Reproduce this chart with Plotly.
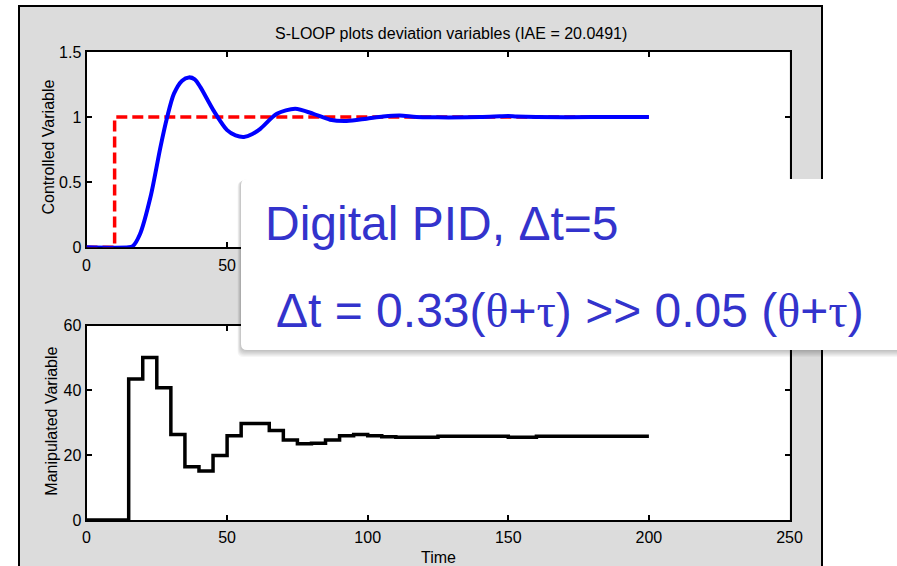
import plotly.graph_objects as go

W, H = 897, 566

# ---------------- data ----------------
time_sp = [0, 10, 10, 200]
setpoint = [0, 0, 1, 1]

time_cv = [0, 15, 16.5, 19, 22.8, 26.3, 28.7, 31.1, 34, 36.4, 38.5, 40.5, 45.2, 50, 53, 56, 59,
           61.8, 67.7, 74.2, 80.7, 86.6, 92.5, 99.6, 105.5, 111.4, 117.3, 125, 140, 147, 150,
           153, 160, 180, 200]
cv = [0, 0, 0.01, 0.10, 0.39, 0.77, 1.0, 1.18, 1.28, 1.305, 1.29, 1.23, 1.05, 0.90, 0.86, 0.848,
      0.87, 0.91, 1.025, 1.064, 1.025, 0.98, 0.970, 0.988, 1.005, 1.013, 1.0, 0.998, 1.0, 1.006,
      1.008, 1.004, 1.0, 1.0, 1.0]

time_mv = [0, 15, 20, 25, 30, 35, 40, 45, 50, 55, 60, 65, 70, 75, 80, 85, 90, 95, 100, 105, 110,
           115, 120, 125, 130, 135, 140, 145, 150, 155, 160, 165, 170, 175, 180, 185, 190, 195, 200]
mv = [0, 43.5, 50.1, 40.8, 26.4, 16.4, 15.1, 19.9, 26.0, 29.8, 29.8, 27.6, 24.7, 23.5, 23.7, 24.7,
      26.0, 26.4, 26.0, 25.7, 25.5, 25.5, 25.5, 25.8, 25.8, 25.8, 25.8, 25.8, 25.5, 25.5, 25.8,
      25.8, 25.8, 25.8, 25.8, 25.8, 25.8, 25.8, 25.8]

x_ticks = [0, 50, 100, 150, 200, 250]
x_ticktext = ["0", "50", "100", "150", "200", "250"]
y1_ticks = [0, 0.5, 1, 1.5]
y1_ticktext = ["0", "0.5", "1", "1.5"]
y2_ticks = [0, 20, 40, 60]
y2_ticktext = ["0", "20", "40", "60"]

title_text = "S-LOOP plots deviation variables (IAE = 20.0491)"
ylabel_top = "Controlled Variable"
ylabel_bot = "Manipulated Variable"
xlabel = "Time"
SERIF = "font-family:'Liberation Serif','Times New Roman',serif"
box_line1 = "Digital PID, Δt=5"
box_line2 = ("Δt = 0.33(<span style=\"%s\">θ</span>+<span style=\"%s\">τ</span>) &gt;&gt; "
             "0.05 (<span style=\"%s\">θ</span>+<span style=\"%s\">τ</span>)") % (SERIF, SERIF, SERIF, SERIF)


def px(x):
    return x / W


def py(y):
    return 1 - y / H


FONT = "Liberation Sans, Arial, sans-serif"
SMALL = 16
BIG = 48
# plot-area pixel geometry
L, R = 86.5, 789.5
T1, B1 = 52, 247.3
T2, B2 = 325.5, 520

fig = go.Figure()
fig.add_trace(go.Scatter(x=time_sp, y=setpoint, mode="lines",
                         line=dict(color="#ff0000", width=3.5, dash="11px,5px"),
                         xaxis="x", yaxis="y", showlegend=False))
fig.add_trace(go.Scatter(x=time_cv, y=cv, mode="lines",
                         line=dict(color="#0000ff", width=4, shape="spline", smoothing=0.8),
                         xaxis="x", yaxis="y", showlegend=False))
fig.add_trace(go.Scatter(x=time_mv, y=mv, mode="lines",
                         line=dict(color="black", width=3.5, shape="hv"),
                         xaxis="x2", yaxis="y2", showlegend=False))

axis_common = dict(showline=True, linecolor="black", linewidth=2, mirror="ticks",
                   ticks="inside", ticklen=5, tickwidth=2, tickcolor="black",
                   showgrid=False, zeroline=False, layer="below traces", automargin=False,
                   tickfont=dict(family=FONT, size=SMALL, color="black"))

fig.update_layout(
    width=W, height=H, autosize=False,
    margin=dict(l=0, r=0, t=0, b=0, pad=0, autoexpand=False),
    paper_bgcolor="white", plot_bgcolor="white",
    xaxis=dict(domain=[px(L), px(R)], range=[0, 250], tickvals=x_ticks, ticktext=x_ticktext,
               anchor="y", ticklabelstandoff=2, **axis_common),
    yaxis=dict(domain=[py(B1), py(T1)], range=[0, 1.5], tickvals=y1_ticks, ticktext=y1_ticktext,
               anchor="x", **axis_common),
    xaxis2=dict(domain=[px(L), px(R)], range=[0, 250], tickvals=x_ticks, ticktext=x_ticktext,
                anchor="y2", ticklabelstandoff=2, **axis_common),
    yaxis2=dict(domain=[py(B2), py(T2)], range=[0, 60], tickvals=y2_ticks, ticktext=y2_ticktext,
                anchor="x2", **axis_common),
)

shapes = []
# grey figure window
shapes.append(dict(type="rect", xref="paper", yref="paper", layer="below",
                   x0=px(19), x1=px(822), y0=py(6), y1=py(580),
                   fillcolor="rgb(220,220,220)", line=dict(color="black", width=2)))
# white plot areas
for (t, b) in [(T1, B1), (T2, B2)]:
    shapes.append(dict(type="rect", xref="paper", yref="paper", layer="below",
                       x0=px(L), x1=px(R), y0=py(b), y1=py(t),
                       fillcolor="white", line=dict(width=0)))


def rounded_box(x0, y0, x1, y1, r):
    pts = [
        "M %f,%f" % (px(x0 + r), py(y0)),
        "L %f,%f" % (px(x1), py(y0)),
        "L %f,%f" % (px(x1), py(y1)),
        "L %f,%f" % (px(x0 + r), py(y1)),
        "Q %f,%f %f,%f" % (px(x0), py(y1), px(x0), py(y1 - r)),
        "L %f,%f" % (px(x0), py(y0 + r)),
        "Q %f,%f %f,%f" % (px(x0), py(y0), px(x0 + r), py(y0)),
        "Z",
    ]
    return " ".join(pts)


BX0, BY0, BX1, BY1 = 241, 179, 910, 350
# soft shadow
for k in range(1, 8):
    shapes.append(dict(type="path", xref="paper", yref="paper", layer="above",
                       path=rounded_box(BX0 - 0.5 * k, BY0 + 0.3 * k, BX1, BY1 + 1.0 * k, 6),
                       fillcolor="rgba(0,0,0,0.035)", line=dict(width=0)))
shapes.append(dict(type="path", xref="paper", yref="paper", layer="above",
                   path=rounded_box(BX0, BY0, BX1, BY1, 6),
                   fillcolor="white", line=dict(width=0)))
fig.update_layout(shapes=shapes)

ann = []
ann.append(dict(text=title_text, x=px(451), y=py(34), xref="paper", yref="paper",
                showarrow=False, xanchor="center", yanchor="middle",
                font=dict(family=FONT, size=SMALL, color="black")))
ann.append(dict(text=ylabel_top, x=px(48), y=py(147.5), xref="paper", yref="paper",
                showarrow=False, textangle=-90, xanchor="center", yanchor="middle",
                font=dict(family=FONT, size=SMALL, color="black")))
ann.append(dict(text=ylabel_bot, x=px(52), y=py(421.7), xref="paper", yref="paper",
                showarrow=False, textangle=-90, xanchor="center", yanchor="middle",
                font=dict(family=FONT, size=SMALL, color="black")))
ann.append(dict(text=xlabel, x=px(438), y=py(557), xref="paper", yref="paper",
                showarrow=False, xanchor="center", yanchor="middle",
                font=dict(family=FONT, size=SMALL, color="black")))
ann.append(dict(text=box_line1, x=px(263), y=py(223), xref="paper", yref="paper",
                showarrow=False, xanchor="left", yanchor="middle",
                font=dict(family=FONT, size=BIG, color="rgb(51,51,204)")))
ann.append(dict(text=box_line2, x=px(274), y=py(310), xref="paper", yref="paper",
                showarrow=False, xanchor="left", yanchor="middle",
                font=dict(family=FONT, size=BIG, color="rgb(51,51,204)")))
fig.update_layout(annotations=ann)

fig.write_html("out.html")
